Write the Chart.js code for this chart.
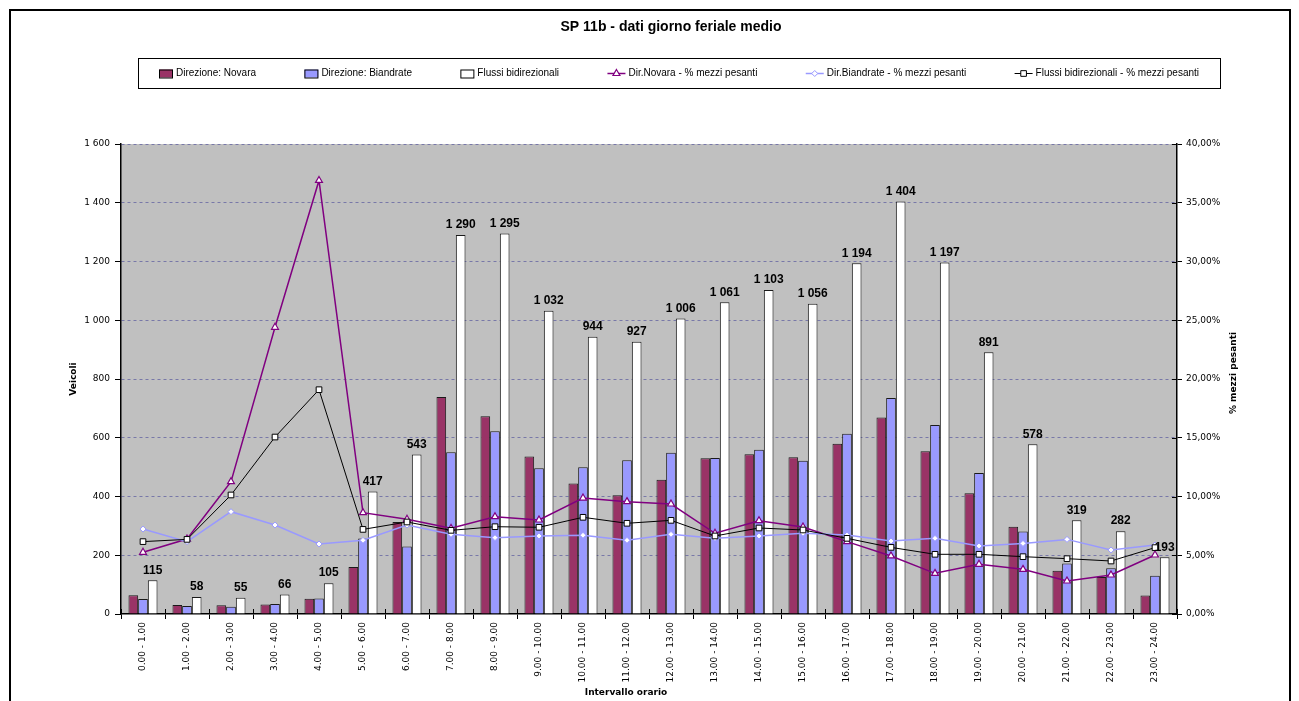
<!DOCTYPE html>
<html lang="it">
<head>
<meta charset="utf-8">
<title>SP 11b - dati giorno feriale medio</title>
<script src="https://cdn.jsdelivr.net/npm/chart.js@4.4.1/dist/chart.umd.min.js"></script>
<style>
  html, body { margin: 0; padding: 0; background: #ffffff; }
  #wrap { position: relative; width: 1299px; height: 701px; }
</style>
</head>
<body>
<div id="wrap"><canvas id="chart" width="1299" height="701"></canvas></div>
<script>
// Fasce orarie
const intervalli = [
  '0.00 - 1.00', '1.00 - 2.00', '2.00 - 3.00', '3.00 - 4.00', '4.00 - 5.00', '5.00 - 6.00',
  '6.00 - 7.00', '7.00 - 8.00', '8.00 - 9.00', '9.00 - 10.00', '10.00 - 11.00', '11.00 - 12.00',
  '12.00 - 13.00', '13.00 - 14.00', '14.00 - 15.00', '15.00 - 16.00', '16.00 - 17.00', '17.00 - 18.00',
  '18.00 - 19.00', '19.00 - 20.00', '20.00 - 21.00', '21.00 - 22.00', '22.00 - 23.00', '23.00 - 24.00'
];

// Veicoli per direzione e totale bidirezionale
const dirNovara    = [64, 31, 30, 32, 52, 160, 313, 739, 673, 536, 444, 404, 457, 530, 544, 534, 580, 669, 554, 411, 297, 147, 126, 63];
const dirBiandrate = [51, 27, 25, 34, 53, 257, 230, 551, 622, 496, 500, 523, 549, 531, 559, 522, 614, 735, 643, 480, 281, 172, 156, 130];
const flussiBidir  = [115, 58, 55, 66, 105, 417, 543, 1290, 1295, 1032, 944, 927, 1006, 1061, 1103, 1056, 1194, 1404, 1197, 891, 578, 319, 282, 193];

// Percentuale di mezzi pesanti
const pctNovara    = [5.25, 6.38, 11.26, 24.40, 36.90, 8.62, 8.06, 7.29, 8.28, 8.00, 9.87, 9.56, 9.36, 6.87, 7.94, 7.40, 6.16, 4.94, 3.46, 4.23, 3.80, 2.81, 3.32, 5.02];
const pctBiandrate = [7.23, 6.16, 8.71, 7.57, 5.96, 6.27, 7.57, 6.78, 6.50, 6.64, 6.70, 6.27, 6.78, 6.44, 6.64, 6.87, 6.72, 6.21, 6.44, 5.79, 6.01, 6.35, 5.45, 5.87];
const pctFlussi    = [6.16, 6.35, 10.13, 15.06, 19.09, 7.20, 7.83, 7.12, 7.43, 7.38, 8.23, 7.72, 7.97, 6.64, 7.32, 7.15, 6.44, 5.67, 5.08, 5.08, 4.88, 4.71, 4.51, 5.65];

// Tick degli assi
const tickVeicoli = [0, 200, 400, 600, 800, 1000, 1200, 1400, 1600];
const tickPct     = [0, 5, 10, 15, 20, 25, 30, 35, 40];

const TICK_FONT = { family: 'DejaVu Sans', size: 9 };
const NARROW = '"Liberation Sans Narrow", "Arial Narrow", sans-serif';

function migliaia(v) {
  const s = String(Math.round(v));
  return s.replace(/\B(?=(\d{3})+(?!\d))/g, ' ');
}
function percento(v) {
  return v.toFixed(2).replace('.', ',') + '%';
}

// Sfondo grigio dell'area del grafico, cornice, titoli, legenda ed etichette dei valori
const decorazioni = {
  id: 'decorazioni',
  beforeDraw(chart) {
    const { ctx, chartArea: a } = chart;
    ctx.save();
    ctx.fillStyle = '#c0c0c0';
    ctx.fillRect(a.left, a.top, a.right - a.left, a.bottom - a.top);
    ctx.restore();
  },
  afterDraw(chart) {
    const { ctx, chartArea: a } = chart;
    ctx.save();

    // cornice esterna
    ctx.strokeStyle = '#000';
    ctx.lineWidth = 2;
    ctx.beginPath();
    ctx.moveTo(10, 705);
    ctx.lineTo(10, 10);
    ctx.lineTo(1290, 10);
    ctx.lineTo(1290, 705);
    ctx.stroke();

    // titolo
    ctx.fillStyle = '#000';
    ctx.font = 'bold 14px ' + NARROW;
    ctx.textAlign = 'center';
    ctx.textBaseline = 'middle';
    ctx.fillText('SP 11b - dati giorno feriale medio', 671, 27);

    // tacche interne su asse x e asse destro
    ctx.strokeStyle = '#000';
    ctx.lineWidth = 1;
    ctx.beginPath();
    for (let i = 0; i <= intervalli.length; i++) {
      const x = Math.round(a.left + (a.right - a.left) * i / intervalli.length) + 0.5;
      ctx.moveTo(x, a.bottom);
      ctx.lineTo(x, a.bottom - 5);
    }
    const yr = chart.scales.yPct;
    tickPct.forEach(v => {
      const y = Math.round(yr.getPixelForValue(v)) + 0.5;
      ctx.moveTo(a.right, y);
      ctx.lineTo(a.right - 5, y);
    });
    ctx.stroke();

    // titoli degli assi
    ctx.font = 'bold 9px "DejaVu Sans", sans-serif';
    ctx.textAlign = 'center';
    ctx.textBaseline = 'middle';
    ctx.fillText('Intervallo orario', 626, 693);
    ctx.save();
    ctx.translate(74, (a.top + a.bottom) / 2);
    ctx.rotate(-Math.PI / 2);
    ctx.fillText('Veicoli', 0, 0);
    ctx.restore();
    ctx.save();
    ctx.translate(1234, (a.top + a.bottom) / 2 - 6);
    ctx.rotate(-Math.PI / 2);
    ctx.fillText('% mezzi pesanti', 0, 0);
    ctx.restore();

    // etichette dei flussi bidirezionali
    const meta = chart.getDatasetMeta(2);
    ctx.font = 'bold 12px "Liberation Sans", Arial, sans-serif';
    ctx.textAlign = 'center';
    ctx.textBaseline = 'bottom';
    meta.data.forEach((bar, i) => {
      ctx.fillText(migliaia(flussiBidir[i]), bar.x, bar.y - 4);
    });

    // legenda
    const box = { l: 138, t: 58, r: 1220, b: 88 };
    ctx.fillStyle = '#fff';
    ctx.fillRect(box.l, box.t, box.r - box.l, box.b - box.t);
    ctx.strokeStyle = '#000';
    ctx.lineWidth = 1;
    ctx.strokeRect(box.l + 0.5, box.t + 0.5, box.r - box.l, box.b - box.t);
    ctx.font = '10px ' + NARROW;
    ctx.textAlign = 'left';
    ctx.textBaseline = 'middle';
    const items = chart.data.datasets.map(ds => ({ ds, symW: ds.type === 'line' ? 18 : 14 }));
    items.forEach(it => { it.w = it.symW + 3 + ctx.measureText(it.ds.label).width; });
    const margin = 21;
    const total = items.reduce((s, it) => s + it.w, 0);
    const gap = (box.r - box.l - 2 * margin - total) / (items.length - 1);
    let x = box.l + margin;
    const cy = (box.t + box.b) / 2 + 0.5;
    items.forEach(it => {
      const ds = it.ds;
      if (ds.type === 'line') {
        ctx.strokeStyle = ds.borderColor;
        ctx.lineWidth = ds.borderWidth;
        ctx.beginPath();
        ctx.moveTo(x, cy);
        ctx.lineTo(x + it.symW, cy);
        ctx.stroke();
        ctx.fillStyle = ds.pointBackgroundColor;
        ctx.strokeStyle = ds.pointBorderColor;
        ctx.lineWidth = ds.pointBorderWidth || 1;
        Chart.helpers.drawPoint(ctx, {
          pointStyle: ds.pointStyle, radius: ds.pointRadius, rotation: 0,
          borderWidth: ds.pointBorderWidth || 1
        }, x + it.symW / 2, cy);
      } else {
        ctx.fillStyle = ds.backgroundColor;
        ctx.strokeStyle = '#000';
        ctx.lineWidth = 1;
        ctx.fillRect(x, cy - 4, it.symW, 8);
        ctx.strokeRect(x + 0.5, cy - 4 + 0.5, it.symW - 1, 8);
      }
      ctx.fillStyle = '#000';
      ctx.fillText(ds.label, x + it.symW + 3, cy);
      x += it.w + gap;
    });

    ctx.restore();
  }
};

new Chart(document.getElementById('chart'), {
  data: {
    labels: intervalli,
    datasets: [
      {
        type: 'bar', label: 'Direzione: Novara', data: dirNovara, yAxisID: 'y',
        backgroundColor: '#993366', borderColor: '#1a1a1a', borderWidth: 1, order: 3
      },
      {
        type: 'bar', label: 'Direzione: Biandrate', data: dirBiandrate, yAxisID: 'y',
        backgroundColor: '#9999ff', borderColor: '#1a1a1a', borderWidth: 1, order: 3
      },
      {
        type: 'bar', label: 'Flussi bidirezionali', data: flussiBidir, yAxisID: 'y',
        backgroundColor: '#ffffff', borderColor: '#1a1a1a', borderWidth: 1, order: 3
      },
      {
        type: 'line', label: 'Dir.Novara - % mezzi pesanti', data: pctNovara, yAxisID: 'yPct',
        borderColor: '#800080', borderWidth: 1.5, pointStyle: 'triangle', pointRadius: 4,
        pointBackgroundColor: '#ffffff', pointBorderColor: '#800080', pointBorderWidth: 1.2,
        tension: 0, order: 2
      },
      {
        type: 'line', label: 'Dir.Biandrate - % mezzi pesanti', data: pctBiandrate, yAxisID: 'yPct',
        borderColor: '#9999ff', borderWidth: 1.5, pointStyle: 'rectRot', pointRadius: 3,
        pointBackgroundColor: '#ffffff', pointBorderColor: '#9999ff', pointBorderWidth: 1,
        tension: 0, order: 1
      },
      {
        type: 'line', label: 'Flussi bidirezionali - % mezzi pesanti', data: pctFlussi, yAxisID: 'yPct',
        borderColor: '#000000', borderWidth: 1, pointStyle: 'rect', pointRadius: 4,
        pointBackgroundColor: '#ffffff', pointBorderColor: '#000000', pointBorderWidth: 1,
        tension: 0, order: 0
      }
    ]
  },
  options: {
    responsive: false,
    animation: false,
    devicePixelRatio: 1,
    layout: { padding: { top: 144, left: 0, right: 0, bottom: 0 } },
    datasets: { bar: { categoryPercentage: 0.66, barPercentage: 1.0 } },
    plugins: { legend: { display: false }, title: { display: false }, tooltip: { enabled: false } },
    scales: {
      x: {
        type: 'category',
        offset: true,
        afterFit(s) { s.height = 87; },
        grid: { offset: true, drawOnChartArea: false, drawTicks: true, tickLength: 5, tickColor: '#000' },
        border: { display: true, color: '#000', width: 1.5 },
        ticks: { color: '#000', font: TICK_FONT, minRotation: 90, maxRotation: 90, padding: 3, autoSkip: false }
      },
      y: {
        type: 'linear', position: 'left', min: 0, max: 1600,
        afterFit(s) { s.width = 121; },
        afterBuildTicks(s) { s.ticks = tickVeicoli.map(v => ({ value: v })); },
        grid: {
          color: (c) => c.tick && c.tick.value === 0 ? 'rgba(0,0,0,0)' : '#7878a8',
          lineWidth: 1, tickColor: '#000', tickLength: 6, tickBorderDash: []
        },
        border: { display: true, color: '#000', width: 1.5, dash: [3, 3] },
        ticks: { color: '#000', font: TICK_FONT, padding: 5, callback: (v) => migliaia(v) }
      },
      yPct: {
        type: 'linear', position: 'right', min: 0, max: 40,
        afterFit(s) { s.width = 122; },
        afterBuildTicks(s) { s.ticks = tickPct.map(v => ({ value: v })); },
        grid: { drawOnChartArea: false, tickColor: '#000', tickLength: 5 },
        border: { display: true, color: '#000', width: 1.5 },
        ticks: { color: '#000', font: TICK_FONT, padding: 4, callback: (v) => percento(v) }
      }
    }
  },
  plugins: [decorazioni]
});
</script>
</body>
</html>
